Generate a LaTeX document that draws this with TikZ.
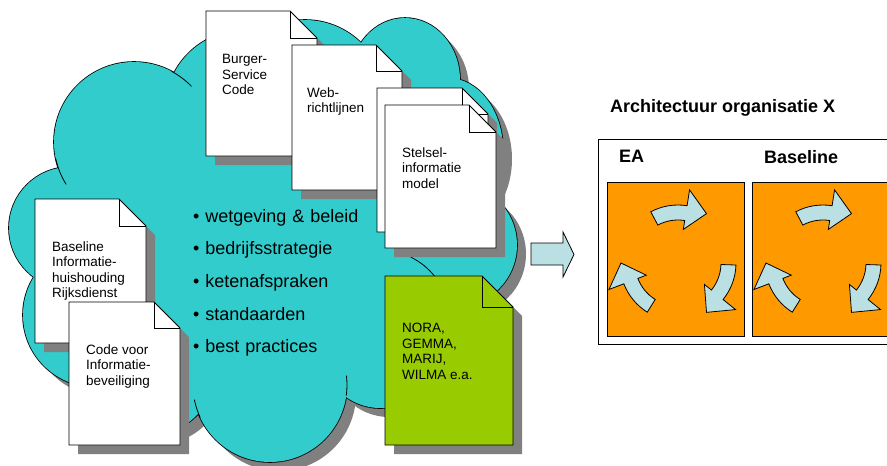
\documentclass[tikz,border=0pt]{standalone}
\usepackage{fontspec}
\setmainfont{Liberation Sans}
\usetikzlibrary{positioning}

\definecolor{cloudteal}{RGB}{51,204,204}
\definecolor{docgreen}{RGB}{153,204,0}
\definecolor{boxorange}{RGB}{255,153,0}
\definecolor{shadowgray}{RGB}{128,128,128}
\definecolor{arrowblue}{RGB}{186,224,228}

% sheet of paper with folded corner: x1 y1 x2 y2 fold fill
\newcommand{\docsheet}[6]{%
  \fill[docshadow, shift={(9,9)}] (#1,#2) -- (#3-#5,#2) -- (#3,#2+#5) -- (#3,#4) -- (#1,#4) -- cycle;
  \draw[docline, fill=#6] (#1,#2) -- (#3-#5,#2) -- (#3,#2+#5) -- (#3,#4) -- (#1,#4) -- cycle;
  \draw[docline] (#3-#5,#2) -- (#3-#5,#2+#5) -- (#3,#2+#5);
}
% curved arrow of the cycle: centre x, centre y, rotation
\newcommand{\cyclearrow}[3]{%
  \begin{scope}[shift={(#1,#2)}, yscale=-1, rotate=#3]
    \draw[cycarrow] (118:58) arc[start angle=118, end angle=81, radius=58]
      -- (81:74) -- (60:57) -- (81:34) -- (81:43)
      arc[start angle=81, end angle=118, radius=43] -- cycle;
  \end{scope}}

\def\cloudlobes{70/228/61/61, 134/142/80/80, 245/110/80/80, 305/100/80/80,
  405/80/55/62, 448/150/55/72, 455/245/62/62, 440/350/60/60,
  380/350/58/58, 270/385/77/77, 150/370/65/65, 95/315/72/72}

\begin{document}
\begin{tikzpicture}[
    x=1pt, y=-1pt,
    node distance=15.3pt,
    doctext/.style={anchor=north west, inner sep=0pt, align=left, font=\fontsize{13.5}{15.5}\selectfont},
    bulletitem/.style={inner sep=0pt, text width=180pt, align=left, text height=13pt, text depth=4pt, font=\fontsize{18}{21}\selectfont},
    headtext/.style={anchor=north west, inner sep=0pt, font=\fontsize{18}{21}\selectfont\bfseries},
    docline/.style={draw=black, line width=0.8pt},
    docshadow/.style={fill=shadowgray},
    cloudline/.style={draw=black, line width=0.8pt},
    framebox/.style={rectangle, draw=black, line width=0.8pt, fill=white, inner sep=0pt},
    orangebox/.style={rectangle, draw=black, line width=0.8pt, fill=boxorange, minimum width=137pt, minimum height=154pt, inner sep=0pt},
    cycarrow/.style={draw=black, line width=0.8pt, fill=arrowblue},
    bigarrow/.style={draw=black, line width=0.8pt, fill=arrowblue}
]
\useasboundingbox (0,0) rectangle (887,466);
\clip (0,0) rectangle (887,466);

% cloud
\foreach \cx/\cy/\rx/\ry in \cloudlobes
  \fill[shadowgray, shift={(9,9)}] (\cx,\cy) ellipse[x radius=\rx, y radius=\ry];
\foreach \cx/\cy/\rx/\ry in \cloudlobes
  \draw[line width=1.6pt] (\cx,\cy) ellipse[x radius=\rx, y radius=\ry];
\foreach \cx/\cy/\rx/\ry in \cloudlobes
  \fill[cloudteal] (\cx,\cy) ellipse[x radius=\rx, y radius=\ry];
\fill[cloudteal] (70,228) -- (134,142) -- (245,110) -- (305,100) -- (405,80) -- (448,150)
  -- (455,245) -- (440,350) -- (380,350) -- (270,385) -- (150,370) -- (95,315) -- cycle;
\draw[cloudline] (134,142) ++(148:80) arc[start angle=148, end angle=168, radius=80];
\draw[cloudline] (134,142) ++(-62:80) arc[start angle=-62, end angle=-44, radius=80];
\draw[cloudline] (270,385) ++(155:77) arc[start angle=155, end angle=169, radius=77];
\draw[cloudline] (270,385) ++(-7:77) arc[start angle=-7, end angle=8, radius=77];
\draw[cloudline] (380,320) ++(-64:70) arc[start angle=-64, end angle=-38, radius=70];

% documents
\docsheet{206}{11}{317}{156}{27}{white}
\docsheet{292}{45}{402}{190}{26}{white}
\docsheet{377}{88}{488}{232}{26}{white}
\docsheet{385}{105}{496}{248}{27}{white}
\docsheet{35}{199}{146}{343}{27}{white}
\docsheet{69}{302}{180}{445}{26}{white}
\docsheet{385}{276}{513}{445}{31}{docgreen}

\node[doctext] (bsn) at (222,54.3) {Burger-\\Service\\Code};
\node[doctext] (web) at (307,87.3) {Web-\\richtlijnen};
\node[doctext] (stelsel) at (402,147.3) {Stelsel-\\informatie\\model};
\node[doctext] (bir) at (52,241.3) {Baseline\\Informatie-\\huishouding\\Rijksdienst};
\node[doctext] (vir) at (86,344.3) {Code voor\\Informatie-\\beveiliging};
\node[doctext] (nora) at (402,323.3) {NORA,\\GEMMA,\\MARIJ,\\WILMA e.a.};

% bullets in the cloud
\node[bulletitem] (wetgeving) at (283,217.5) {• wetgeving \& beleid};
\node[bulletitem, below=of wetgeving] (strategie) {• bedrijfsstrategie};
\node[bulletitem, below=of strategie] (keten) {• ketenafspraken};
\node[bulletitem, below=of keten] (standaarden) {• standaarden};
\node[bulletitem, below=of standaarden] (practices) {• best practices};

% arrow to the organisation
\draw[bigarrow] (531,243) -- (563,243) -- (563,232) -- (574,254.5) -- (563,277) -- (563,265) -- (531,265) -- cycle;

% architectuur organisatie X
\node[headtext] (title) at (610,98.8) {Architectuur organisatie X};
\node[framebox, minimum width=307pt, minimum height=205pt] (orgx) at (751.5,241.5) {};
\node[headtext] (ea) at (619,149.8) {EA};
\node[headtext] (baseline) at (764,149.8) {Baseline};
\node[orangebox] (eabox) at (675.5,259) {};
\node[orangebox] (basebox) at (820.5,259) {};

\foreach \rot in {0,120,240} {
  \cyclearrow{678}{263}{\rot}
  \cyclearrow{823}{263}{\rot}
}
\end{tikzpicture}
\end{document}
